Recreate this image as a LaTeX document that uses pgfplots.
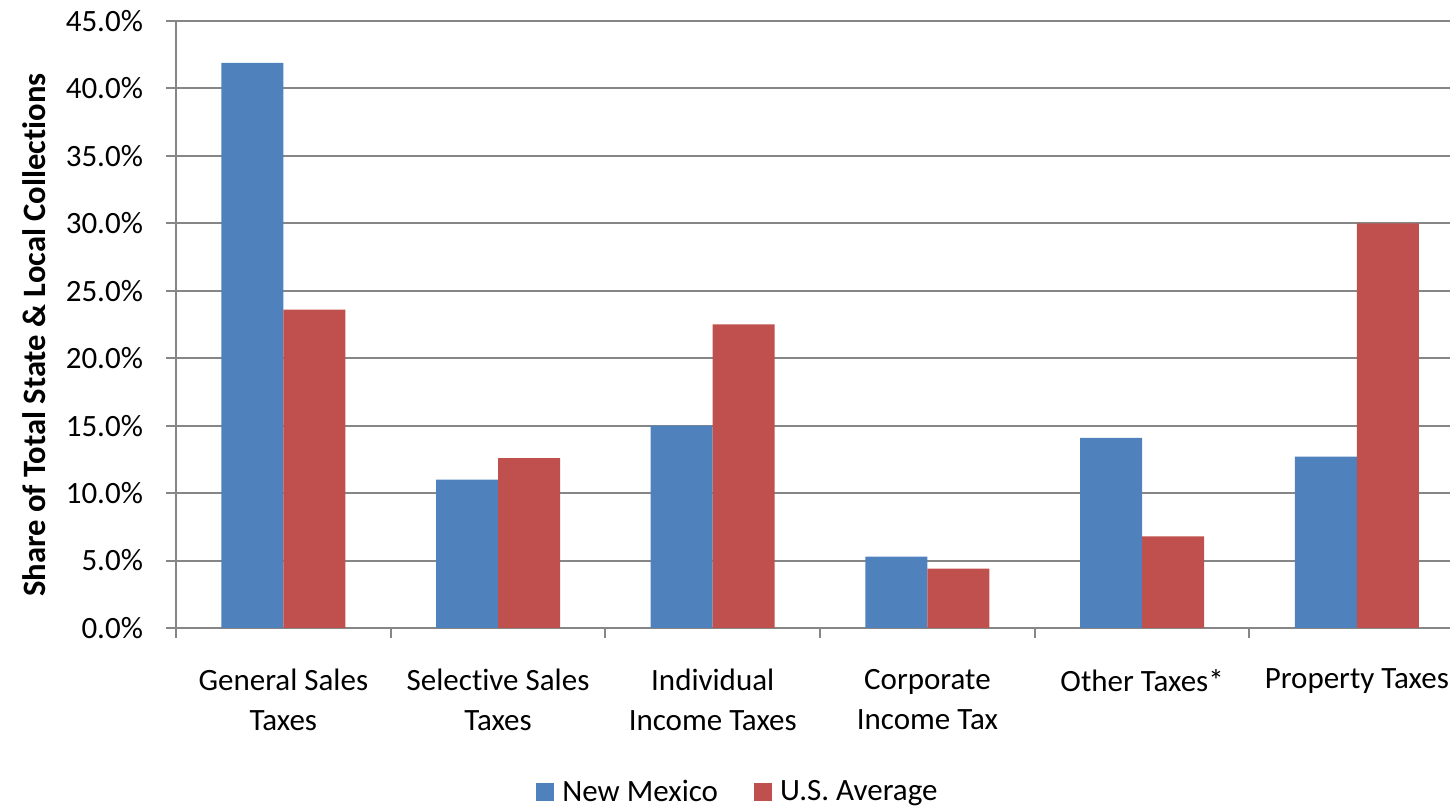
\documentclass[border=0pt]{standalone}
\usepackage{fontspec}
\setmainfont[Ligatures=NoCommon, RawFeature={-liga;-calt;-dlig;-clig}]{Carlito}
\usepackage{pgfplots}
\pgfplotsset{compat=1.18}
\definecolor{nmblue}{HTML}{4F81BD}
\definecolor{usred}{HTML}{C0504D}
\definecolor{axgray}{HTML}{868686}
\begin{document}
\begin{tikzpicture}
\path[use as bounding box] (0,0) rectangle (725pt,403.5pt);
\begin{axis}[
  at={(88pt,89.5pt)}, anchor=south west,
  scale only axis, width=637pt, height=303.5pt,
  ybar=0pt, bar width=31pt,
  xmin=-0.5, xmax=5.434, ymin=0, ymax=45,
  axis x line*=bottom, axis y line*=left,
  axis line style={axgray, line width=1pt},
  ytick={0,5,...,45},
  ymajorgrids, grid style={axgray, line width=1pt},
  yticklabel={\pgfmathprintnumber[fixed,fixed zerofill,precision=1]{\tick}\%},
  /pgf/number format/assume math mode=true,
  tick align=outside, major tick length=5pt, minor tick length=5pt,
  tick style={axgray, line width=1pt},
  major x tick style={draw=none},
  xtick={0,...,5},
  minor xtick={-0.5,0.5,1.5,2.5,3.5,4.5},
  xticklabels={General Sales\\Taxes, Selective Sales\\Taxes, Individual\\Income Taxes, Corporate\\Income Tax, Other Taxes*, Property Taxes},
  xticklabel style={font=\fontsize{15.5}{20}\selectfont, align=center, anchor=north, yshift=-12pt},
  yticklabel style={font=\fontsize{15.5}{18}\selectfont, xshift=-8pt},
  ylabel={\bfseries Share of Total State \& Local Collections},
  every axis y label/.style={at={(rel axis cs:-0.1028,0.4827)}, rotate=90, anchor=base, font=\fontsize{16.3}{18}\selectfont},
  legend style={at={(rel axis cs:0.4419,-0.270)}, anchor=center, draw=none, legend columns=2,
    font=\fontsize{15.5}{18}\selectfont,
    /tikz/every odd column/.append style={column sep=2pt},
    /tikz/every even column/.append style={column sep=16pt}},
]
\addplot[fill=nmblue, draw=none, legend image code/.code={\fill[nmblue] (0pt,-4.5pt) rectangle (9pt,4.5pt);}] coordinates {(0,41.9) (1,11.0) (2,15.0) (3,5.3) (4,14.1) (5,12.7)};
\addplot[fill=usred, draw=none, legend image code/.code={\fill[usred] (0pt,-4.5pt) rectangle (9pt,4.5pt);}] coordinates {(0,23.6) (1,12.6) (2,22.5) (3,4.4) (4,6.8) (5,30.0)};
\legend{New Mexico, U.S. Average}
\end{axis}
\end{tikzpicture}
\end{document}
